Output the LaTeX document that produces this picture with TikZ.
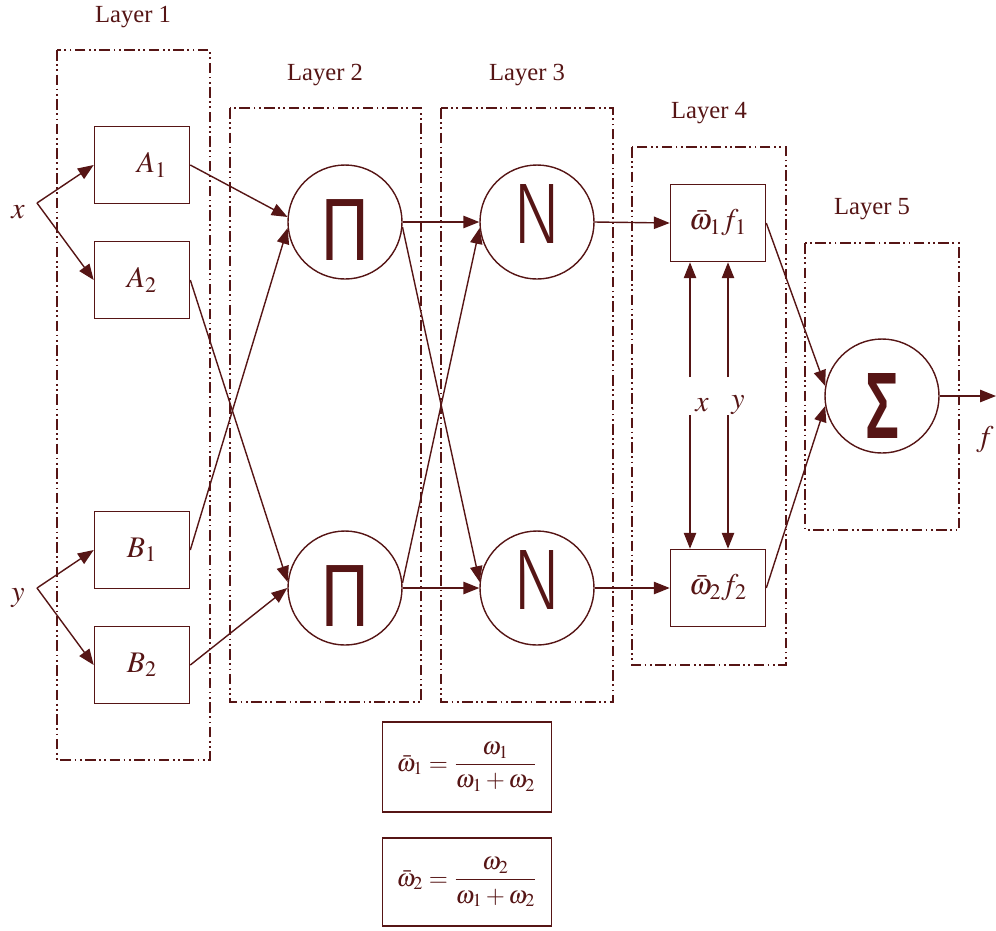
\documentclass[tikz,border=0pt]{standalone}
\usepackage{amsmath}
\usepackage{mathptmx}
\usepackage[no-math]{fontspec}
\usepackage{graphicx}
\setmainfont{Liberation Serif}
\newfontfamily\opfont{Liberation Sans}
\newfontfamily\thinfont{Fira Sans Light}
\usetikzlibrary{arrows.meta}
\usepackage{xcolor}
\definecolor{ink}{HTML}{561515}
\newcommand{\opsym}[4]{\raisebox{#1}[\height][0pt]{\scalebox{#2}[#3]{#4}}}

\begin{document}
\begin{tikzpicture}[x=0.2mm, y=-0.2mm, ink, line width=0.8pt,
    >={Triangle[length=9pt,width=7pt]},
    mf/.style={draw, line width=0.9pt, minimum width=19mm, minimum height=15.4mm, inner sep=0pt, font=\fontsize{17}{20}\selectfont},
    op/.style={draw, circle, minimum size=22.8mm, inner sep=0pt, font=\opfont\fontsize{48}{48}\selectfont},
    layerbox/.style={line width=0.8pt, dash pattern=on 6pt off 2pt on 1pt off 2pt on 1pt off 2pt},
    lbl/.style={font=\fontsize{14}{16}\selectfont},
    var/.style={font=\fontsize{17}{20}\selectfont}]
  \useasboundingbox (0,0) rectangle (996,930);

  % layers
  \draw[layerbox] (57,50) rectangle (210,760);
  \draw[layerbox] (230,108) rectangle (421,702);
  \draw[layerbox] (441,108) rectangle (613,702);
  \draw[layerbox] (632,147) rectangle (786,665);
  \draw[layerbox] (805,243) rectangle (959,530);
  \node[lbl] (L1) at (133,17) {Layer 1};
  \node[lbl] (L2) at (325,75) {Layer 2};
  \node[lbl] (L3) at (527,75) {Layer 3};
  \node[lbl] (L4) at (709,113) {Layer 4};
  \node[lbl] (L5) at (872,209) {Layer 5};

  % layer 1
  \node[mf] (A1) at (142,165) {\hspace{4mm}$A_1$};
  \node[mf] (A2) at (142,280) {$A_2$};
  \node[mf] (B1) at (142,550) {$B_1$};
  \node[mf] (B2) at (142,665) {$B_2$};
  \node[var] (x) at (18,212) {$x$};
  \node[var] (y) at (18,598) {$y$};
  \coordinate (xs) at (37,203);
  \coordinate (ys) at (37,588);
  \draw[->] (xs) -- (A1.west);
  \draw[->] (xs) -- (A2.west);
  \draw[->] (ys) -- (B1.west);
  \draw[->] (ys) -- (B2.west);

  % layers 2 and 3
  \node[op] (P1) at (345,222) {\opsym{-1.6mm}{0.78}{1.05}{Π}};
  \node[op] (P2) at (345,588) {\opsym{-1.6mm}{0.78}{1.05}{Π}};
  \node[op, font=\thinfont\fontsize{49}{49}\selectfont] (N1) at (537,222) {\opsym{1.6mm}{0.85}{1}{N}};
  \node[op, font=\thinfont\fontsize{49}{49}\selectfont] (N2) at (537,588) {\opsym{1.6mm}{0.85}{1}{N}};
  \draw[->] (A1.east) -- (P1.175);
  \draw[->] (B1.east) -- (P1.186);
  \draw[->] (A2.east) -- (P2.174);
  \draw[->] (B2.east) -- (P2.west);
  \draw[->] (P1.east) -- (N1.west);
  \draw[->] (P1.355) -- (N2.174);
  \draw[->] (P2.5) -- (N1.186);
  \draw[->] (P2.east) -- (N2.west);

  % layer 4
  \node[mf] (W1) at (718,223) {$\bar{\omega}_1 f_1$};
  \node[mf] (W2) at (718,588) {$\bar{\omega}_2 f_2$};
  \draw[->] (N1.east) -- (W1.west);
  \draw[->] (N2.east) -- (W2.west);
  \node[var] (x4) at (702,405) {$x$};
  \node[var] (y4) at (738,405) {$y$};
  \coordinate (xu) at (690,377);
  \coordinate (yu) at (728,377);
  \coordinate (xd) at (690,415);
  \coordinate (yd) at (728,415);
  \draw[->] (xu) -- (xu |- W1.south);
  \draw[->] (yu) -- (yu |- W1.south);
  \draw[->] (xd) -- (xd |- W2.north);
  \draw[->] (yd) -- (yd |- W2.north);

  % layer 5
  \node[op, font=\opfont\bfseries\fontsize{48}{48}\selectfont] (S) at (882,396) {\opsym{-1.9mm}{0.67}{1.12}{Σ}};
  \draw[->] (W1.east) -- (S.170);
  \draw[->] (W2.east) -- (S.190);
  \coordinate (out) at (996,396);
  \draw[->] (S.east) -- (out);
  \node[var] (f) at (985,440) {$f$};

  % normalised weights
  \node[draw, line width=0.9pt, minimum width=33.8mm, minimum height=18mm, font=\fontsize{14}{16}\selectfont] (F1) at (467,767)
    {$\bar{\omega}_1=\dfrac{\omega_1}{\omega_1+\omega_2}$};
  \node[draw, line width=0.9pt, minimum width=33.8mm, minimum height=17.6mm, font=\fontsize{14}{16}\selectfont] (F2) at (467,882)
    {$\bar{\omega}_2=\dfrac{\omega_2}{\omega_1+\omega_2}$};
\end{tikzpicture}
\end{document}
